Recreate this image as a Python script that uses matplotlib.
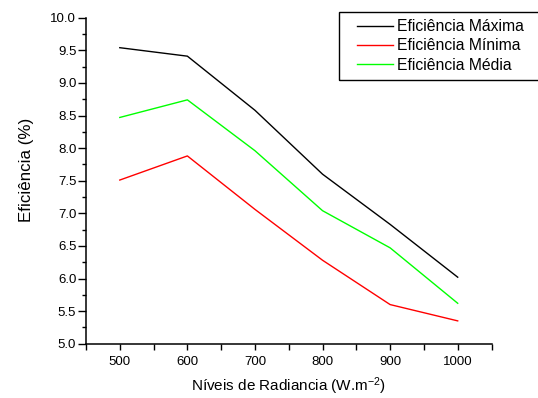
import numpy as np
import matplotlib
matplotlib.use('Agg')
import matplotlib.pyplot as plt
from matplotlib.ticker import MultipleLocator, FormatStrFormatter
from matplotlib.patches import Rectangle

plt.rcParams['font.family'] = ['Liberation Sans', 'DejaVu Sans']
plt.rcParams['mathtext.fontset'] = 'custom'
plt.rcParams['mathtext.rm'] = 'Liberation Sans'
plt.rcParams['mathtext.default'] = 'regular'

# radiance levels (W.m-2)
radiancia = [500, 600, 700, 800, 900, 1000]

# efficiency (%)
ef_maxima = [9.54, 9.41, 8.58, 7.60, 6.83, 6.02]
ef_minima = [7.51, 7.88, 7.06, 6.28, 5.60, 5.35]
ef_media = [8.47, 8.74, 7.96, 7.04, 6.47, 5.62]

W, H = 538, 398
fig = plt.figure(figsize=(W / 100, H / 100), dpi=100)
ax = fig.add_axes([86 / W, 1 - 343.7 / H, 405.5 / W, 326 / H])

ax.plot(radiancia, ef_maxima, color='black', lw=1.0, label='Eficiência Máxima')
ax.plot(radiancia, ef_minima, color='#ff0000', lw=1.0, label='Eficiência Mínima')
ax.plot(radiancia, ef_media, color='#00ff00', lw=1.0, label='Eficiência Média')

ax.set_xlim(450, 1050)
ax.set_ylim(5.0, 10.0)
ax.xaxis.set_major_locator(MultipleLocator(100))
ax.xaxis.set_minor_locator(MultipleLocator(50))
ax.yaxis.set_major_locator(MultipleLocator(0.5))
ax.yaxis.set_minor_locator(MultipleLocator(0.25))
ax.yaxis.set_major_formatter(FormatStrFormatter('%.1f'))

ax.spines['top'].set_visible(False)
ax.spines['right'].set_visible(False)
for s in ['left', 'bottom']:
    ax.spines[s].set_linewidth(1.1)

ax.tick_params(axis='y', which='major', direction='out', length=5.5, width=1.0, labelsize=9.5, pad=1.5)
ax.tick_params(axis='y', which='minor', direction='out', length=3.2, width=1.0)
ax.tick_params(axis='x', which='both', direction='out', length=4, width=1.0, labelsize=9.5, pad=4.5)

ax.set_xlabel('Níveis de Radiancia (W.m$^{-2}$)', fontsize=11)
ax.xaxis.set_label_coords(0.5, -0.097)
ax.set_ylabel('Eficiência (%)', fontsize=12.2)
ax.yaxis.set_label_coords(-0.128, 0.533)

# legend (frame drawn separately so it runs off the right edge like the original)
leg = ax.legend(loc='upper left', bbox_to_anchor=(356.5 / W, 1 - 19 / H),
                bbox_transform=fig.transFigure, fontsize=11.3, frameon=False,
                borderpad=0, handlelength=2.3, handletextpad=0.3,
                labelspacing=0.28, borderaxespad=0)
fig.add_artist(Rectangle((339 / W, 1 - 80 / H), 230 / W, 68.3 / H,
                         transform=fig.transFigure, fill=False,
                         edgecolor='black', lw=1.0, clip_on=False))

fig.savefig('out.png', dpi=100)
